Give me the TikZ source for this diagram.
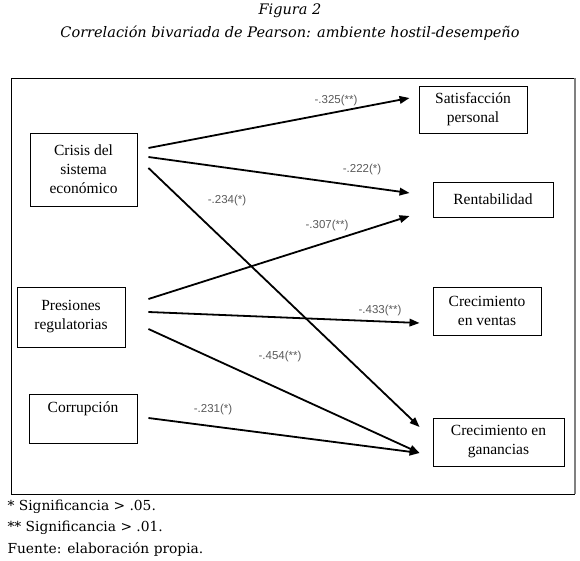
\documentclass[tikz,border=0pt]{standalone}
\usepackage{fontspec}
\setmainfont{Liberation Serif}
\setsansfont{Liberation Sans}
\newfontfamily\capfont{DejaVu Serif}
\usepackage{tikz}
\usetikzlibrary{positioning,arrows.meta,calc}
\usepackage{xcolor}

\begin{document}
\begin{tikzpicture}[
  x=1pt, y=-1pt,
  font=\fontsize{15.5}{19}\selectfont,
  >={Triangle[length=10pt,width=7.5pt]},
  var/.style={draw, line width=0.9pt, align=center, inner sep=0pt},
  arr/.style={->, line width=1.8pt},
  coef/.style={font=\sffamily\fontsize{11.5}{13}\selectfont, black!65},
  capline/.style={font=\capfont\itshape\fontsize{14.5}{17}\selectfont},
  note/.style={font=\capfont\fontsize{13.8}{16}\selectfont, anchor=west},
]
  \useasboundingbox (0,0) rectangle (580,561);

  % Caption
  \node[capline] (fig) at (290,11) {Figura 2};
  \node[capline] (tit) at (290,33) {Correlación bivariada de Pearson: ambiente hostil-desempeño};

  % Frame
  \draw[line width=0.9pt] (575,78) -- (11,78) -- (11,494) -- (575,494);
  \draw[black!50, line width=2pt] (575,78) -- (575,494);

  % Independent variables
  \node[var, minimum width=107, minimum height=73] (crisis) at (83.5,169.5) {Crisis del\\sistema\\económico};
  \node[var, minimum width=108, minimum height=60] (presion) at (71,317) {Presiones\\regulatorias};
  \node[var, minimum width=108, minimum height=49, text height=11pt, text depth=24pt] (corrup) at (83,418.5) {Corrupción};

  % Performance variables
  \node[var, minimum width=108, minimum height=47] (satis) at (473,109.5) {Satisfacción\\personal};
  \node[var, minimum width=120, minimum height=35] (renta) at (493,199.5) {Rentabilidad};
  \node[var, minimum width=108, minimum height=48] (ventas) at (487,311) {Crecimiento\\en ventas};
  \node[var, minimum width=131, minimum height=48] (ganan) at (498.5,442) {Crecimiento en\\ganancias};

  % Correlations
  \draw[arr] ([shift={(11,-21.5)}]crisis.east) -- ([shift={(-9,-11.5)}]satis.west);
  \draw[arr] ([shift={(11,-12.5)}]crisis.east) -- ([shift={(-23,-6.5)}]renta.west);
  \draw[arr] ([shift={(11,-1.5)}]crisis.east) -- ([shift={(-13,-15)}]ganan.west);
  \draw[arr] ([shift={(23,-18)}]presion.east) -- ([shift={(-23,16.5)}]renta.west);
  \draw[arr] ([shift={(23,-5)}]presion.east) -- ([shift={(-13,12)}]ventas.west);
  \draw[arr] ([shift={(23,12)}]presion.east) -- ([shift={(-13,11)}]ganan.west);
  \draw[arr] ([shift={(11,-0.5)}]corrup.east) -- ([shift={(-13,11)}]ganan.west);

  % Coefficients
  \node[coef] (r1) at (336,101) {-.325(**)};
  \node[coef] (r2) at (362,170) {-.222(*)};
  \node[coef] (r3) at (227,201) {-.234(*)};
  \node[coef] (r4) at (327,226) {-.307(**)};
  \node[coef] (r5) at (380,311) {-.433(**)};
  \node[coef] (r6) at (280,357) {-.454(**)};
  \node[coef] (r7) at (213,410) {-.231(*)};

  % Notes
  \node[note] (n1) at (4,507) {* Significancia > .05.};
  \node[note] (n2) at (4,528) {** Significancia > .01.};
  \node[note] (n3) at (4,549) {Fuente: elaboración propia.};
\end{tikzpicture}
\end{document}
